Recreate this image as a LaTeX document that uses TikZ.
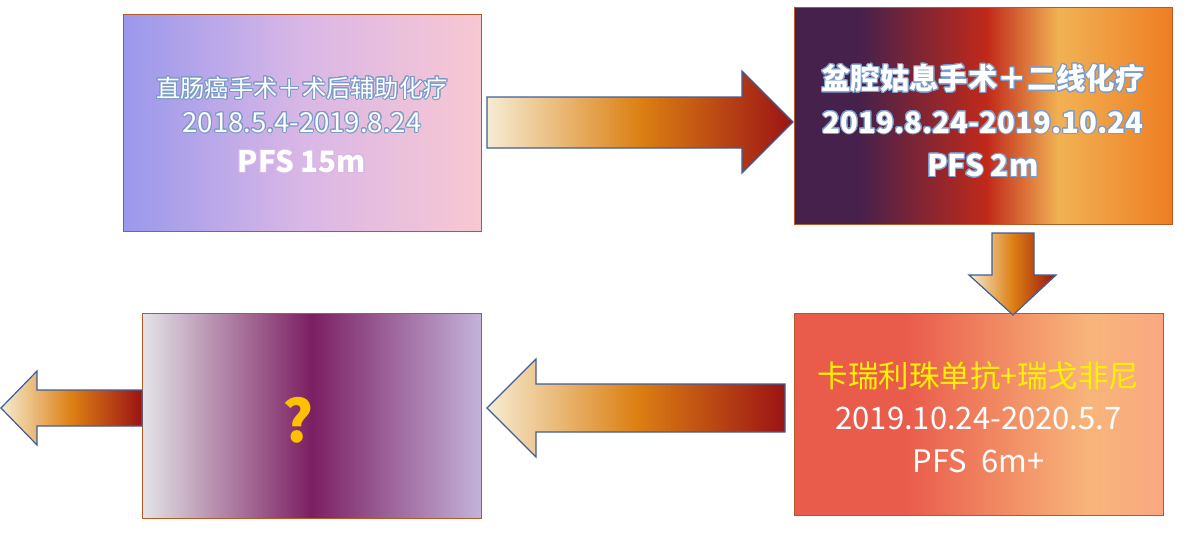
\documentclass[tikz,border=0pt]{standalone}
\usepackage{fontspec}
\setmainfont{Noto Sans CJK SC}
\usepackage[copies]{contour}
\contourlength{1pt}
\contournumber{24}

\definecolor{boxedge}{HTML}{B55A22}
\definecolor{arrowedge}{HTML}{3F5E99}
\definecolor{arrcream}{HTML}{F6ECD2}
\definecolor{arrorange}{HTML}{DC8013}
\definecolor{arrred}{HTML}{9B1314}
\definecolor{lav}{HTML}{9A98EC}
\definecolor{lilac}{HTML}{D9B7E6}
\definecolor{pinky}{HTML}{F8C7D2}
\definecolor{plum}{HTML}{45214B}
\definecolor{crimson}{HTML}{C1291A}
\definecolor{apricot}{HTML}{F1B254}
\definecolor{tangerine}{HTML}{EE7D22}
\definecolor{coral}{HTML}{E95B4B}
\definecolor{peach}{HTML}{F8B57A}
\definecolor{salmon}{HTML}{FBA782}
\definecolor{mist}{HTML}{E3E4E8}
\definecolor{wine}{HTML}{7C1F62}
\definecolor{wisteria}{HTML}{C3B3DA}
\definecolor{glowblue}{HTML}{7C9CC8}
\definecolor{qgold}{HTML}{FFC000}

\pgfdeclarehorizontalshading{surgeryshade}{100bp}{color(0bp)=(lav); color(25bp)=(lav); color(50bp)=(lilac); color(75bp)=(pinky); color(100bp)=(pinky)}
\pgfdeclarehorizontalshading{pelvicshade}{100bp}{color(0bp)=(plum); color(25bp)=(plum); color(33.5bp)=(plum); color(50.5bp)=(crimson); color(60bp)=(apricot); color(75bp)=(tangerine); color(100bp)=(tangerine)}
\pgfdeclarehorizontalshading{immunoshade}{100bp}{color(0bp)=(coral); color(25bp)=(coral); color(40bp)=(coral); color(65bp)=(peach); color(75bp)=(salmon); color(100bp)=(salmon)}
\pgfdeclarehorizontalshading{unknownshade}{100bp}{color(0bp)=(mist); color(25bp)=(mist); color(50bp)=(wine); color(75bp)=(wisteria); color(100bp)=(wisteria)}

\tikzset{
  stagebox/.style={draw=boxedge, line width=1pt, inner sep=0pt},
  stagetext/.style={align=center, text=white, inner sep=0pt},
  blockarrow/.style={draw=arrowedge, line width=1.2pt, line join=miter, left color=arrcream, right color=arrred, middle color=arrorange},
}

\begin{document}
\begin{tikzpicture}[x=1pt,y=-1pt]
\useasboundingbox (0,0) rectangle (1190,543);
% stages
\node[stagebox, shading=surgeryshade, minimum width=358pt, minimum height=216pt] (surgery) at (302,123) {};
\node[stagebox, shading=pelvicshade, minimum width=378pt, minimum height=216pt] (pelvic) at (983,116) {};
\node[stagebox, shading=immunoshade, minimum width=369pt, minimum height=202pt] (immuno) at (978.5,414) {};
\node[stagebox, shading=unknownshade, minimum width=339pt, minimum height=205pt] (unknown) at (311.5,415.5) {};
% texts
\node[stagetext, font=\fontsize{24.3}{35}\selectfont] (surgerytext) at ([yshift=-2pt]surgery.center)
  {\contour{glowblue}{直肠癌手术＋术后辅助化疗}\\
   {\fontsize{27.5}{35}\selectfont\contour{glowblue}{2018.5.4-2019.8.24}}\\[5pt]
   {\fontsize{29.6}{35}\selectfont\bfseries\contour{lilac}{PFS 15m}}};
\node[stagetext, font=\fontsize{29.4}{43.5}\selectfont\bfseries] (pelvictext) at ([yshift=-5pt]pelvic.center)
  {\contour{glowblue}{盆腔姑息手术＋二线化疗}\\
   \contour{glowblue}{2019.8.24-2019.10.24}\\
   {\fontsize{29.9}{43.5}\selectfont\contour{glowblue}{PFS 2m}}};
\node[stagetext, font=\fontsize{31}{42.5}\selectfont] (immunotext) at ([yshift=-3pt]immuno.center)
  {\textcolor{yellow}{\fontsize{30.5}{42.5}\selectfont 卡瑞利珠单抗+瑞戈非尼}\\
   2019.10.24-2020.5.7\\
   PFS\ \ 6m+};
\node[text=qgold, font=\fontsize{58}{60}\selectfont\bfseries] (question) at (298,420) {?};
% arrows
\draw[blockarrow] (487,97) -- (742,97) -- (742,71) -- (793,122) -- (742,173) -- (742,148) -- (487,148) -- cycle;
\draw[blockarrow] (992,233) -- (1034,233) -- (1034,275) -- (1056,275) -- (1013,315) -- (969,275) -- (992,275) -- cycle;
\draw[blockarrow] (785,384) -- (536,384) -- (536,359) -- (487,408) -- (536,457) -- (536,432) -- (785,432) -- cycle;
\draw[blockarrow] (142,390) -- (37,390) -- (37,371) -- (1,408) -- (37,445) -- (37,426) -- (142,426) -- cycle;
\end{tikzpicture}
\end{document}
